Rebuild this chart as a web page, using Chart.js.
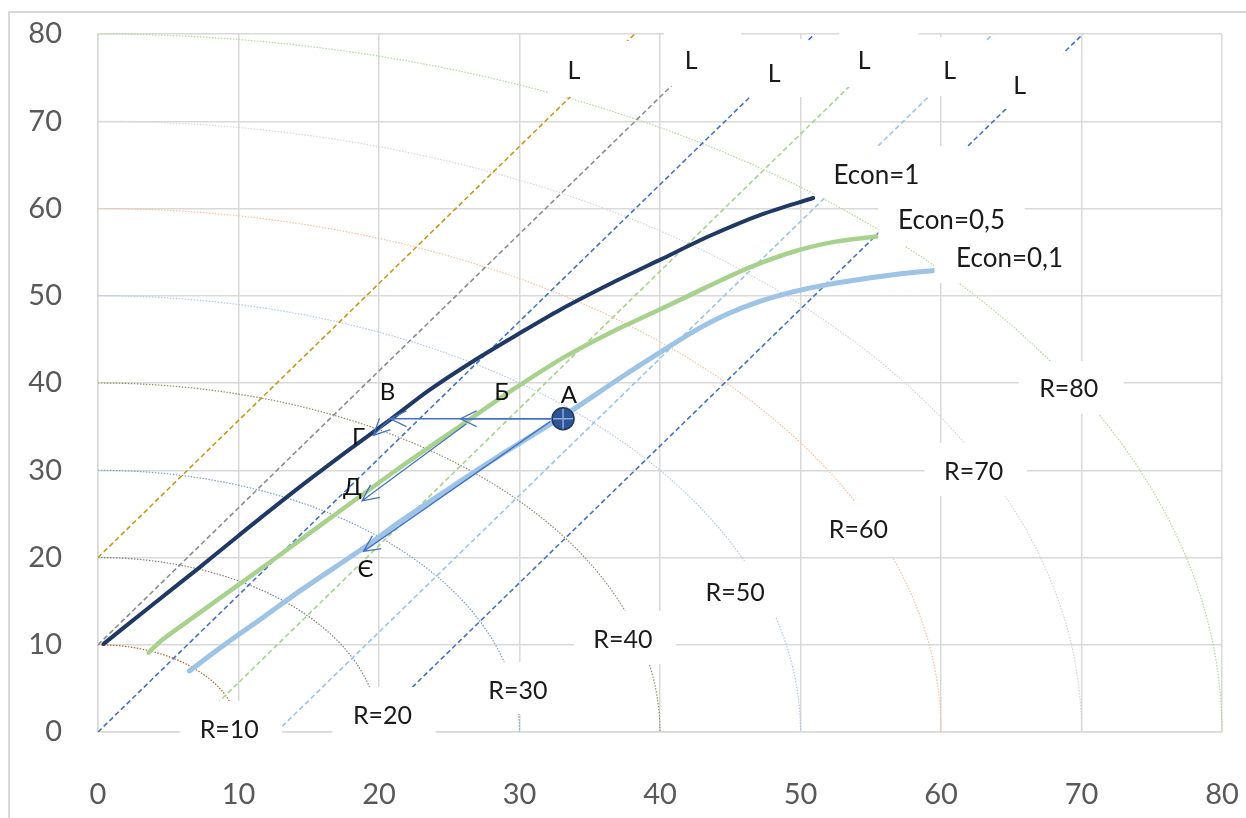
<!DOCTYPE html>
<html>
<head>
<meta charset="utf-8">
<script src="https://cdn.jsdelivr.net/npm/chart.js@4.4.1/dist/chart.umd.min.js"></script>
<style>
 html, body { margin: 0; padding: 0; background: #fff; }
</style>
</head>
<body>
<canvas id="econChart" width="1246" height="818"></canvas>
<script>
// curves Econ = 1 / 0,5 / 0,1
let econ1X = [0.4, 3.5, 7.1, 10.0, 14.3, 18.0, 20.8, 23.5, 26.7, 29.8, 32.9, 36.5, 40.1, 43.6, 47.2, 50.9];
let econ1Y = [10.1, 14.1, 18.7, 22.5, 28.0, 32.5, 35.8, 39.1, 42.5, 45.5, 48.4, 51.4, 54.2, 56.9, 59.3, 61.2];
let econ05X = [3.6, 4.6, 7.0, 10.2, 12.7, 16.6, 21.4, 25.8, 29.5, 33.0, 36.5, 40.1, 43.2, 46.3, 49.6, 52.5, 55.4];
let econ05Y = [9.1, 10.6, 13.4, 17.1, 20.0, 24.6, 30.2, 35.1, 39.2, 42.8, 45.8, 48.5, 50.9, 53.2, 55.1, 56.2, 56.8];
let econ01X = [6.5, 9.0, 11.9, 14.4, 19.0, 21.4, 25.0, 29.0, 33.1, 37.2, 40.0, 42.5, 44.8, 47.2, 49.6, 52.0, 54.3, 57.0, 59.5];
let econ01Y = [7.0, 10.0, 13.3, 16.2, 21.2, 24.0, 27.9, 32.1, 36.2, 40.6, 43.5, 46.0, 47.9, 49.4, 50.5, 51.3, 51.9, 52.5, 52.9];

// dashed L lines (start / end)
let lStartX = [0, 0, 0, 6.4, 12.7, 19.1];
let lStartY = [20, 10, 0, 0, 0, 0];
let lEndX = [38.2, 44.6, 51.0, 57.3, 63.7, 70.1];
let lEndY = [80, 80, 80, 80, 80, 80];

// circles R
let radii = [10, 20, 30, 40, 50, 60, 70, 80];

// point A and arrows
let pointAX = [33.1];
let pointAY = [35.9];
let arrowFromX = [32.3, 32.3, 20.8, 26.2, 32.2];
let arrowFromY = [35.9, 35.9, 35.9, 35.3, 35.6];
let arrowToX = [25.8, 20.8, 19.6, 18.8, 18.9];
let arrowToY = [35.9, 35.9, 34.0, 26.5, 20.7];

// texts
let econNames = ['Econ=1', 'Econ=0,5', 'Econ=0,1'];
let rNames = ['R=10', 'R=20', 'R=30', 'R=40', 'R=50', 'R=60', 'R=70', 'R=80'];
let pointNames = ['А', 'Б', 'В', 'Г', 'Д', 'Є'];
let axisTicks = [0, 10, 20, 30, 40, 50, 60, 70, 80];

function pts(xs, ys) {
 return xs.map((x, i) => ({ x: x, y: ys[i] }));
}

// where the data labels sit (data units): text centre and white box
let lLabelPos = [
 { x: 33.87, y: 75.76, box: [32.09, 72.78, 37.79, 79.2] },
 { x: 42.21, y: 76.91, box: [40.29, 74.04, 45.78, 80.46] },
 { x: 48.13, y: 75.42, box: [46.06, 72.78, 50.48, 79.43] },
 { x: 54.54, y: 76.91, box: [52.76, 73.93, 58.40, 80.46] },
 { x: 60.61, y: 75.76, box: [58.61, 72.89, 63.24, 79.66] },
 { x: 65.6, y: 74.05, box: [64.31, 71.40, 68.73, 77.94] }
];
let econLabelPos = [
 { x: 55.40, y: 63.72, box: [51.05, 61.20, 61.82, 67.16] },
 { x: 60.75, y: 58.57, box: [55.54, 55.70, 65.95, 61.43] },
 { x: 64.88, y: 54.21, box: [59.54, 51.46, 69.66, 55.70] }
];
let rLabelPos = [
 { x: 9.34, y: 0.23, box: [5.85, -1.95, 13.12, 3.55] },
 { x: 20.25, y: 1.83, box: [16.68, -1.38, 24.03, 5.16] },
 { x: 29.88, y: 4.70, box: [26.52, 2.06, 33.65, 8.02] },
 { x: 37.36, y: 10.54, box: [33.87, 7.79, 41.14, 13.87] },
 { x: 45.35, y: 15.93, box: [42.21, 13.18, 48.63, 19.6] },
 { x: 54.12, y: 23.15, box: [50.77, 20.06, 57.54, 26.48] },
 { x: 62.32, y: 29.80, box: [58.82, 27.05, 66.10, 33.12] },
 { x: 69.09, y: 39.31, box: [65.53, 36.45, 73.01, 42.52] }
];
let letterPos = [
 { x: 33.51, y: 38.62 }, { x: 28.74, y: 38.97 }, { x: 20.61, y: 38.97 },
 { x: 18.54, y: 33.81 }, { x: 18.11, y: 28.08 }, { x: 19.04, y: 18.68 }
];

let arcColors = ['#b8602a', '#808080', '#7f9cc9', '#8f8f72', '#b4c7e7', '#f6c1a0', '#d6d6d6', '#b5d79c'];
let lColors = ['#c49a1c', '#8c8c8c', '#4472c4', '#a9d18e', '#9dc3e6', '#4472c4'];

let sketch = {
 id: 'sketch',
 beforeDraw(chart) {
  let ctx = chart.ctx;
  ctx.save();
  ctx.strokeStyle = '#d9d9d9';
  ctx.lineWidth = 2;
  ctx.strokeRect(9, 12, 1300, 900);
  ctx.restore();
 },
 beforeDatasetsDraw(chart) {
  let ctx = chart.ctx, xs = chart.scales.x, ys = chart.scales.y;
  let cx = xs.getPixelForValue(0), cy = ys.getPixelForValue(0);
  ctx.save();
  ctx.lineWidth = 1.2;
  ctx.setLineDash([1.5, 1.5]);
  radii.forEach((r, i) => {
   let rx = xs.getPixelForValue(r) - cx;
   let ry = cy - ys.getPixelForValue(r);
   ctx.strokeStyle = arcColors[i];
   ctx.beginPath();
   ctx.ellipse(cx, cy, rx, ry, 0, -Math.PI / 2, 0);
   ctx.stroke();
  });
  ctx.restore();
 },
 afterDatasetsDraw(chart) {
  let ctx = chart.ctx, xs = chart.scales.x, ys = chart.scales.y;
  let all = [];
  lLabelPos.forEach(p => all.push({ t: 'L', p: p, s: 25 }));
  econLabelPos.forEach((p, i) => all.push({ t: econNames[i], p: p, s: 26 }));
  rLabelPos.forEach((p, i) => all.push({ t: rNames[i], p: p, s: 25 }));
  ctx.save();
  ctx.fillStyle = '#ffffff';
  all.forEach(a => {
   let b = a.p.box;
   let x0 = xs.getPixelForValue(b[0]), x1 = xs.getPixelForValue(b[2]);
   let y0 = ys.getPixelForValue(b[3]), y1 = ys.getPixelForValue(b[1]);
   ctx.fillRect(x0, y0, x1 - x0, y1 - y0);
  });
  ctx.fillStyle = '#1a1a1a';
  ctx.textAlign = 'center';
  ctx.textBaseline = 'middle';
  all.forEach(a => {
   ctx.font = a.s + 'px Lato, "Open Sans", sans-serif';
   ctx.fillText(a.t, xs.getPixelForValue(a.p.x), ys.getPixelForValue(a.p.y));
  });

  // arrows
  ctx.strokeStyle = '#4472c4';
  ctx.lineWidth = 1.3;
  arrowFromX.forEach((fx, i) => {
   let x0 = xs.getPixelForValue(fx), y0 = ys.getPixelForValue(arrowFromY[i]);
   let x1 = xs.getPixelForValue(arrowToX[i]), y1 = ys.getPixelForValue(arrowToY[i]);
   let ang = Math.atan2(y1 - y0, x1 - x0);
   ctx.beginPath();
   ctx.moveTo(x0, y0);
   ctx.lineTo(x1, y1);
   ctx.moveTo(x1 - 18 * Math.cos(ang - 0.45), y1 - 18 * Math.sin(ang - 0.45));
   ctx.lineTo(x1, y1);
   ctx.lineTo(x1 - 18 * Math.cos(ang + 0.45), y1 - 18 * Math.sin(ang + 0.45));
   ctx.stroke();
  });

  // letters
  ctx.fillStyle = '#111111';
  ctx.font = '24px Lato, "Open Sans", sans-serif';
  pointNames.forEach((n, i) => {
   ctx.fillText(n, xs.getPixelForValue(letterPos[i].x), ys.getPixelForValue(letterPos[i].y));
  });
  ctx.restore();
 }
};

let lineSets = lStartX.map((sx, i) => ({
 label: 'L' + i,
 data: [{ x: sx, y: lStartY[i] }, { x: lEndX[i], y: lEndY[i] }],
 showLine: true,
 borderColor: lColors[i],
 borderWidth: 1.6,
 borderDash: [5, 3],
 pointRadius: 0,
 order: 5
}));

let econChart = document.getElementById('econChart').getContext('2d');
let chart1 = new Chart(econChart, {
 type: 'scatter',
 data: {
  datasets: lineSets.concat([
   {
    label: 'Econ=0,1',
    data: pts(econ01X, econ01Y),
    showLine: true,
    borderColor: '#9dc3e6',
    borderWidth: 5,
    borderCapStyle: 'round',
    tension: 0.3,
    pointRadius: 0,
    order: 4
   },
   {
    label: 'Econ=0,5',
    data: pts(econ05X, econ05Y),
    showLine: true,
    borderColor: '#a9d18e',
    borderWidth: 4.5,
    borderCapStyle: 'round',
    tension: 0.3,
    pointRadius: 0,
    order: 3
   },
   {
    label: 'Econ=1',
    data: pts(econ1X, econ1Y),
    showLine: true,
    borderColor: '#203864',
    borderWidth: 4,
    borderCapStyle: 'round',
    tension: 0.3,
    pointRadius: 0,
    order: 2
   },
   {
    label: 'A',
    data: pts(pointAX, pointAY),
    pointRadius: 11,
    pointBackgroundColor: '#2f5597',
    pointBorderColor: '#1f3864',
    pointBorderWidth: 1.5,
    order: 1
   },
   {
    label: 'A cross',
    data: pts(pointAX, pointAY),
    pointStyle: 'cross',
    pointRadius: 10,
    pointBorderColor: '#8faadc',
    pointBorderWidth: 1.5,
    order: 0
   }
  ])
 },
 options: {
  responsive: false,
  animation: false,
  layout: { padding: { left: 0, right: 24, top: 34, bottom: 0 } },
  plugins: { legend: { display: false }, tooltip: { enabled: false } },
  scales: {
   x: {
    type: 'linear',
    min: 0,
    max: 80,
    afterFit: s => { s.height = 86; s.paddingLeft = 0; s.paddingRight = 0; },
    afterBuildTicks: s => { s.ticks = axisTicks.map(v => ({ value: v })); },
    grid: { color: '#d9d9d9', lineWidth: 1.5, drawTicks: false },
    border: { color: '#d9d9d9', width: 1.5 },
    ticks: { padding: 45, color: '#595959', font: { family: 'Lato', size: 29 } }
   },
   y: {
    type: 'linear',
    min: 0,
    max: 80,
    afterFit: s => { s.width = 98; s.paddingTop = 0; s.paddingBottom = 0; },
    afterBuildTicks: s => { s.ticks = axisTicks.map(v => ({ value: v })); },
    grid: { color: '#d9d9d9', lineWidth: 1.5, drawTicks: false },
    border: { color: '#d9d9d9', width: 1.5 },
    ticks: { padding: 36, color: '#595959', font: { family: 'Lato', size: 29 } }
   }
  }
 },
 plugins: [sketch]
});
</script>
</body>
</html>
